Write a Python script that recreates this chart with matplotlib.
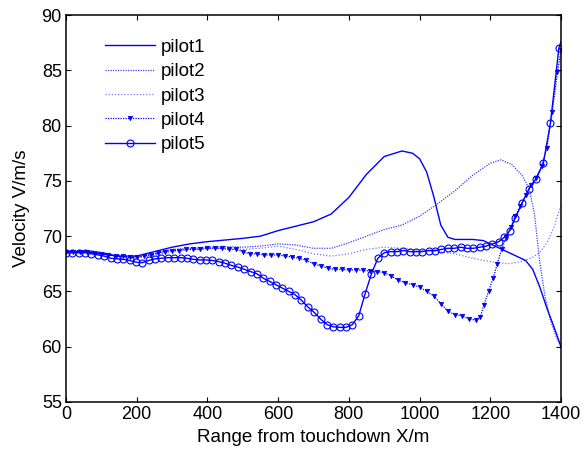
import matplotlib
matplotlib.use("Agg")
import matplotlib.pyplot as plt

plt.rcParams['font.family'] = ['Liberation Sans', 'DejaVu Sans']

# ---- data ----
p1_x = [0, 50, 100, 150, 200, 250, 300, 350, 400, 450, 500, 550, 600, 650, 700, 750, 800, 850, 900, 950,
        980, 1000, 1020, 1040, 1060, 1080, 1100, 1150, 1180, 1220, 1260, 1300, 1320, 1340, 1360, 1380, 1400]
p1_v = [68.6, 68.6, 68.4, 68.2, 68.2, 68.6, 69.0, 69.3, 69.5, 69.65, 69.8, 70.0, 70.5, 70.9, 71.3, 72.0, 73.5, 75.6, 77.2, 77.7,
        77.5, 77.0, 75.8, 73.6, 71.0, 69.9, 69.7, 69.7, 69.6, 69.0, 68.4, 67.8, 67.0, 65.4, 63.5, 61.8, 60.0]

p2_x = [0, 50, 100, 150, 200, 250, 300, 350, 400, 450, 500, 550, 600, 650, 700, 750, 800, 850, 900, 950,
        1000, 1050, 1100, 1150, 1200, 1230, 1260, 1290, 1310, 1325, 1340, 1355, 1370, 1385, 1400]
p2_v = [68.6, 68.6, 68.4, 68.2, 68.1, 68.4, 68.8, 68.9, 69.0, 69.05, 69.0, 69.1, 69.3, 69.2, 68.9, 68.9, 69.4, 70.0, 70.6, 71.0,
        71.8, 72.9, 74.1, 75.5, 76.6, 76.9, 76.5, 75.5, 74.3, 72.0, 67.6, 64.5, 62.4, 61.0, 60.0]

p3_x = [0, 50, 100, 150, 200, 250, 300, 350, 400, 450, 500, 550, 600, 650, 700, 750, 800, 850, 900, 950,
        1000, 1050, 1100, 1150, 1200, 1250, 1290, 1320, 1340, 1360, 1380, 1400]
p3_v = [68.6, 68.6, 68.4, 68.2, 68.0, 68.3, 68.6, 68.8, 68.9, 68.9, 68.8, 68.9, 69.1, 68.8, 68.4, 68.2, 68.4, 68.8, 69.0, 68.9,
        68.7, 68.6, 68.4, 68.0, 67.7, 67.5, 67.7, 68.1, 68.5, 69.4, 70.8, 72.8]

p4_x = [0, 20, 40, 60, 80, 100, 120, 140, 160, 180, 200, 220, 240, 260, 280, 300, 320, 340, 360, 380,
        400, 420, 440, 460, 480, 500, 520, 540, 560, 580, 600, 620, 640, 660, 680, 700, 720, 740, 760, 780,
        800, 820, 840, 860, 880, 900, 920, 940, 960, 980, 1000, 1020, 1040, 1060, 1080, 1100, 1120, 1140, 1160,
        1172, 1182, 1195, 1208, 1220, 1232, 1245, 1258, 1270, 1285, 1300, 1315, 1330, 1345, 1360, 1375, 1390, 1400]
p4_v = [68.6, 68.6, 68.6, 68.6, 68.5, 68.4, 68.3, 68.2, 68.2, 68.1, 68.1, 68.2, 68.3, 68.5, 68.6, 68.7, 68.7, 68.8, 68.8, 68.8,
        68.9, 68.9, 68.9, 68.8, 68.8, 68.6, 68.4, 68.4, 68.3, 68.3, 68.3, 68.2, 68.1, 68.0, 67.8, 67.5, 67.3, 67.1, 67.0, 67.0,
        66.95, 66.95, 66.9, 66.85, 66.8, 66.7, 66.4, 66.0, 65.8, 65.6, 65.4, 65.0, 64.6, 63.9, 63.2, 62.9, 62.8, 62.5, 62.4,
        62.7, 63.8, 65.0, 66.2, 67.5, 68.8, 69.9, 70.8, 71.8, 72.7, 73.7, 74.6, 75.3, 76.3, 78.0, 81.2, 84.8, 86.8]

p5_x = [0, 18, 36, 54, 72, 90, 108, 126, 144, 162, 180, 198, 216, 234, 252, 270, 288, 306, 324, 342,
        360, 378, 396, 414, 432, 450, 468, 486, 504, 522, 540, 558, 576, 594, 612, 630, 648, 666, 684, 702,
        720, 738, 756, 774, 792, 810, 828, 846, 864, 882, 900, 918, 936, 954, 972, 990, 1008, 1026, 1044, 1062,
        1080, 1098, 1116, 1134, 1152, 1170, 1188, 1206, 1224, 1240, 1255, 1270, 1290, 1310, 1330, 1350, 1370, 1394, 1400]
p5_v = [68.5, 68.5, 68.5, 68.5, 68.4, 68.3, 68.2, 68.0, 67.95, 67.9, 67.8, 67.65, 67.6, 67.8, 67.95, 68.0, 68.05, 68.05, 68.05, 68.0,
        67.9, 67.85, 67.85, 67.8, 67.7, 67.55, 67.35, 67.2, 67.0, 66.8, 66.6, 66.2, 65.9, 65.6, 65.3, 65.0, 64.7, 64.2, 63.6, 63.1,
        62.5, 62.0, 61.8, 61.75, 61.75, 62.0, 62.8, 64.8, 66.6, 68.0, 68.5, 68.6, 68.6, 68.7, 68.6, 68.6, 68.6, 68.7, 68.7, 68.8,
        68.9, 68.9, 69.0, 68.9, 68.9, 69.0, 69.1, 69.3, 69.5, 69.9, 70.5, 71.6, 73.0, 74.3, 75.2, 76.6, 80.2, 87.0, 87.6]

labels = ['pilot1', 'pilot2', 'pilot3', 'pilot4', 'pilot5']
x_ticks = [0, 200, 400, 600, 800, 1000, 1200, 1400]
y_ticks = [55, 60, 65, 70, 75, 80, 85, 90]

# ---- figure ----
fig = plt.figure(figsize=(5.87, 4.57), dpi=100)
ax = fig.add_axes([66 / 587, 1 - 402 / 457, (561 - 66) / 587, (402 - 15) / 457])

ax.plot(p1_x, p1_v, color='blue', lw=1.0, label=labels[0])
ax.plot(p2_x, p2_v, color='blue', lw=0.9, ls=(0, (1, 1)), alpha=0.75, label=labels[1])
ax.plot(p3_x, p3_v, color='blue', lw=0.9, ls=(0, (1, 1.5)), alpha=0.55, label=labels[2])
ax.plot(p4_x, p4_v, color='blue', lw=0.9, ls=(0, (1, 1)), alpha=1.0, marker='v', markersize=3.2,
        markerfacecolor='blue', markeredgecolor='blue', markeredgewidth=0.5, label=labels[3])
ax.plot(p5_x, p5_v, color='blue', lw=1.0, marker='o', markersize=5, markerfacecolor='none',
        markeredgecolor='blue', markeredgewidth=0.8, markevery=list(range(len(p5_x) - 1)), label=labels[4])

ax.set_xlim(0, 1400)
ax.set_ylim(55, 90)
ax.set_xticks(x_ticks)
ax.set_yticks(y_ticks)
ax.tick_params(direction='in', length=3.5, width=0.8, top=True, right=True, labelsize=13, pad=3)
for s in ax.spines.values():
    s.set_linewidth(1.1)

ax.set_xlabel('Range from touchdown X/m', fontsize=13.5, labelpad=4)
ax.set_ylabel('Velocity V/m/s', fontsize=13.5, labelpad=8)

leg = ax.legend(loc='upper left', bbox_to_anchor=(0.079, 0.939), frameon=False, fontsize=13.5,
                handlelength=2.65, handletextpad=0.3, labelspacing=0.39, borderpad=0, borderaxespad=0)

fig.savefig('out.png', dpi=100)
